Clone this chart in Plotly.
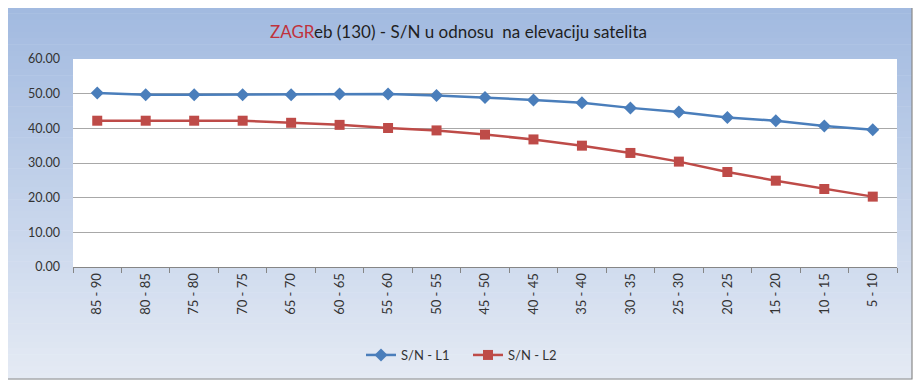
import plotly.graph_objects as go

categories = ["85 - 90", "80 - 85", "75 - 80", "70 - 75", "65 - 70", "60 - 65", "55 - 60",
              "50 - 55", "45 - 50", "40 - 45", "35 - 40", "30 - 35", "25 - 30", "20 - 25",
              "15 - 20", "10 - 15", "5 - 10"]
sn_l1 = [50.2, 49.7, 49.7, 49.7, 49.7, 49.9, 49.9, 49.5, 48.9, 48.2, 47.4, 45.9, 44.7, 43.1, 42.2, 40.7, 39.6]
sn_l2 = [42.2, 42.2, 42.2, 42.2, 41.6, 41.0, 40.1, 39.4, 38.2, 36.8, 35.0, 32.9, 30.4, 27.4, 24.9, 22.5, 20.3]
y_ticks = [0, 10, 20, 30, 40, 50, 60]

OFF = 8  # default page body margin
W, H = 921 - OFF, 387 - OFF
# target screen pixels for the plot area: x 73..897, y 59..267
L, T = 73 - OFF, 59 - OFF
R = W - (897 - OFF)
B = H - (267 - OFF)
pw, ph = W - L - R, H - T - B

def px(x):  # screen pixel -> paper x
    return (x - OFF - L) / pw

def py(y):  # screen pixel -> paper y
    return (H - B - (y - OFF)) / ph

fig = go.Figure()
fig.add_trace(go.Scatter(x=categories, y=sn_l1, name="S/N - L1", mode="lines+markers",
                         line=dict(color="#4a7ebb", width=2.5),
                         marker=dict(symbol="diamond", size=10, color="#4a7ebb")))
fig.add_trace(go.Scatter(x=categories, y=sn_l2, name="S/N - L2", mode="lines+markers",
                         line=dict(color="#be4b48", width=2.5),
                         marker=dict(symbol="square", size=10, color="#be4b48")))

# gradient background bands
shapes = []
top_c = (0xa2, 0xba, 0xe0)
bot_c = (0xe4, 0xea, 0xf4)
y0p, y1p = 7, 379
n = 60
for i in range(n):
    t = i / (n - 1)
    c = tuple(int(round(top_c[k] + (bot_c[k] - top_c[k]) * t)) for k in range(3))
    ya = y0p + (y1p - y0p) * i / n
    yb = y0p + (y1p - y0p) * (i + 1) / n + 0.6
    shapes.append(dict(type="rect", xref="paper", yref="paper", layer="below",
                       x0=px(5), x1=px(912), y0=py(yb), y1=py(ya),
                       fillcolor="rgb(%d,%d,%d)" % c, line=dict(width=0)))
# chart border
shapes.append(dict(type="rect", xref="paper", yref="paper", layer="below",
                   x0=px(5), x1=px(912), y0=py(379), y1=py(7),
                   fillcolor="rgba(0,0,0,0)", line=dict(color="#8a8a8a", width=1.2)))
# plot area white
shapes.append(dict(type="rect", xref="paper", yref="paper", layer="below",
                   x0=0, x1=1, y0=0, y1=1, fillcolor="white", line=dict(width=0)))

title_text = ("<span style='color:#c0323c'>ZAGR</span>eb (130) - S/N u odnosu  na elevaciju satelita")

fig.update_layout(
    width=W, height=H,
    margin=dict(l=L, r=R, t=T, b=B),
    paper_bgcolor="white",
    plot_bgcolor="white",
    shapes=shapes,
    font=dict(family="Lato, Open Sans, sans-serif", size=13, color="#333333"),
    annotations=[dict(text=title_text, xref="paper", yref="paper", x=px(458), y=py(31),
                      xanchor="center", yanchor="middle", showarrow=False,
                      font=dict(size=17, color="#1f1f1f"))],
    showlegend=True,
    legend=dict(orientation="h", x=px(468), xanchor="center", y=py(355), yanchor="middle",
                bgcolor="rgba(0,0,0,0)", font=dict(size=13, color="#333333"),
                itemwidth=30, entrywidth=62, entrywidthmode="pixels", tracegroupgap=0),
    xaxis=dict(type="category", tickangle=-90, showgrid=False, showline=True,
               linecolor="#868686", linewidth=1, ticks="outside", ticklen=5,
               tickcolor="#868686", tickson="boundaries", range=[-0.5, 16.5],
               tickfont=dict(size=13, color="#333333")),
    yaxis=dict(range=[0, 60], tickvals=y_ticks, tickformat=".2f", showgrid=True,
               gridcolor="#a8a8a8", gridwidth=1, zeroline=False, showline=False,
               ticklabelstandoff=12, tickfont=dict(size=12.5, color="#333333")),
)

fig.write_html("out.html")
